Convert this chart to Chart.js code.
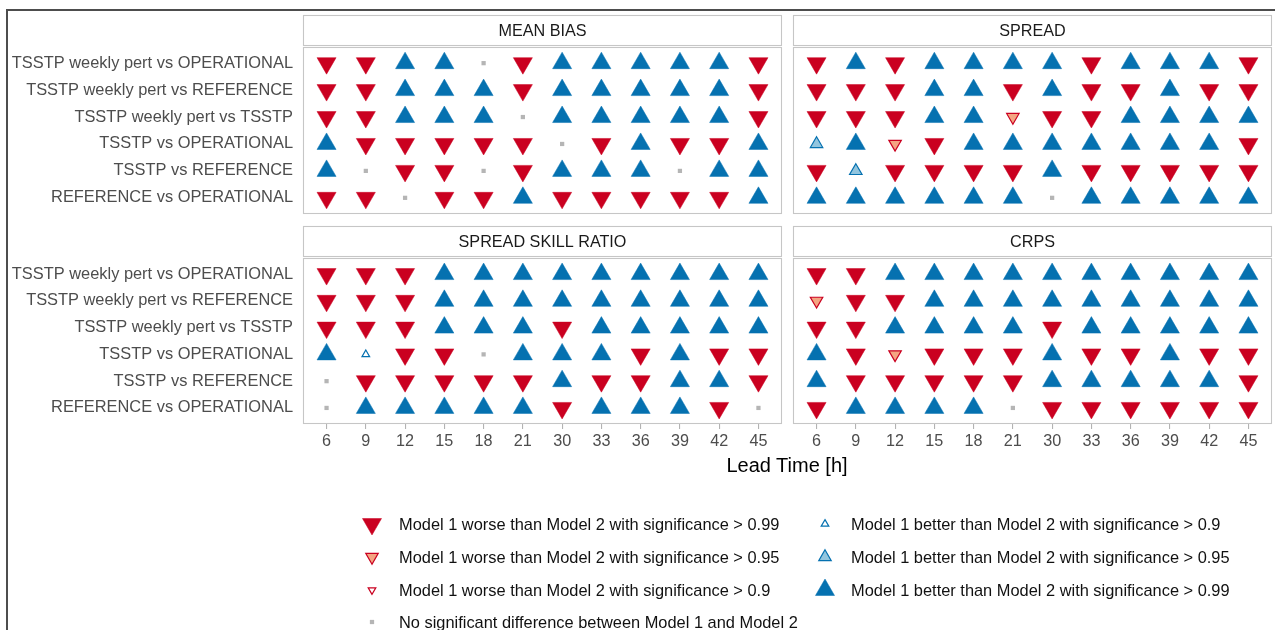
<!DOCTYPE html>
<html>
<head>
<meta charset="utf-8">
<title>Scorecard</title>
<script src="https://cdn.jsdelivr.net/npm/chart.js@4.4.1/dist/chart.umd.min.js"></script>
<style>
  html, body { margin: 0; padding: 0; background: #ffffff; }
  body { width: 1275px; height: 630px; position: relative; overflow: hidden;
         font-family: "Liberation Sans", Arial, Helvetica, sans-serif; }
  #frame { position: absolute; left: 6px; top: 9px; width: 1300px; height: 700px;
           border-top: 2px solid #4d4d4d; border-left: 2px solid #4d4d4d; }
  canvas.panel, #legendMarks { position: absolute; }
  #xtitle { position: absolute; left: 587px; top: 454px; width: 400px; text-align: center;
            font-size: 20px; line-height: 22px; color: #000; }
  .legtext { position: absolute; font-size: 16.4px; line-height: 20px; color: #111; white-space: nowrap; }
</style>
</head>
<body>
<div id="frame"></div>
<canvas id="pMeanBias" class="panel" width="800" height="240" style="left:0;top:0"></canvas>
<canvas id="pSpread" class="panel" width="515" height="240" style="left:775px;top:0"></canvas>
<canvas id="pSsr" class="panel" width="800" height="260" style="left:0;top:220px"></canvas>
<canvas id="pCrps" class="panel" width="515" height="260" style="left:775px;top:220px"></canvas>
<div id="xtitle">Lead Time [h]</div>
<canvas id="legendMarks" width="1275" height="140" style="left:0;top:495px"></canvas>
<div id="legend"></div>

<script>
// Lead times on the x axis (hours)
const leadTimes = ['6', '9', '12', '15', '18', '21', '30', '33', '36', '39', '42', '45'];

// Model pairs, top to bottom
const comparisons = [
  'TSSTP weekly pert vs OPERATIONAL',
  'TSSTP weekly pert vs REFERENCE',
  'TSSTP weekly pert vs TSSTP',
  'TSSTP vs OPERATIONAL',
  'TSSTP vs REFERENCE',
  'REFERENCE vs OPERATIONAL'
];

// Significance codes: 3/2/1 = Model 1 better (>0.99/>0.95/>0.9),
// -3/-2/-1 = Model 1 worse (>0.99/>0.95/>0.9), 0 = no significant difference
const meanBias = [
  [-3, -3,  3,  3,  0, -3,  3,  3,  3,  3,  3, -3],
  [-3, -3,  3,  3,  3, -3,  3,  3,  3,  3,  3, -3],
  [-3, -3,  3,  3,  3,  0,  3,  3,  3,  3,  3, -3],
  [ 3, -3, -3, -3, -3, -3,  0, -3,  3, -3, -3,  3],
  [ 3,  0, -3, -3,  0, -3,  3,  3,  3,  0,  3,  3],
  [-3, -3,  0, -3, -3,  3, -3, -3, -3, -3, -3,  3]
];

const spread = [
  [-3,  3, -3,  3,  3,  3,  3, -3,  3,  3,  3, -3],
  [-3, -3, -3,  3,  3, -3,  3, -3, -3,  3, -3, -3],
  [-3, -3, -3,  3,  3, -2, -3, -3,  3,  3,  3,  3],
  [ 2,  3, -2, -3,  3,  3,  3,  3,  3,  3,  3, -3],
  [-3,  2, -3, -3, -3, -3,  3, -3, -3, -3, -3, -3],
  [ 3,  3,  3,  3,  3,  3,  0,  3,  3,  3,  3,  3]
];

const spreadSkillRatio = [
  [-3, -3, -3,  3,  3,  3,  3,  3,  3,  3,  3,  3],
  [-3, -3, -3,  3,  3,  3,  3,  3,  3,  3,  3,  3],
  [-3, -3, -3,  3,  3,  3, -3,  3,  3,  3,  3,  3],
  [ 3,  1, -3, -3,  0,  3,  3,  3, -3,  3, -3, -3],
  [ 0, -3, -3, -3, -3, -3,  3, -3, -3,  3,  3, -3],
  [ 0,  3,  3,  3,  3,  3, -3,  3,  3,  3, -3,  0]
];

const crps = [
  [-3, -3,  3,  3,  3,  3,  3,  3,  3,  3,  3,  3],
  [-2, -3, -3,  3,  3,  3,  3,  3,  3,  3,  3,  3],
  [-3, -3,  3,  3,  3,  3, -3,  3,  3,  3,  3,  3],
  [ 3, -3, -2, -3, -3, -3,  3, -3, -3,  3, -3, -3],
  [ 3, -3, -3, -3, -3, -3,  3,  3,  3,  3,  3, -3],
  [-3,  3,  3,  3,  3,  0, -3, -3, -3, -3, -3, -3]
];

const panelTitles = ['MEAN BIAS', 'SPREAD', 'SPREAD SKILL RATIO', 'CRPS'];

// Legend entries: [code, label]
const legendLeft = [
  [-3, 'Model 1 worse than Model 2 with significance > 0.99'],
  [-2, 'Model 1 worse than Model 2 with significance > 0.95'],
  [-1, 'Model 1 worse than Model 2 with significance > 0.9'],
  [ 0, 'No significant difference between Model 1 and Model 2']
];
const legendRight = [
  [ 1, 'Model 1 better than Model 2 with significance > 0.9'],
  [ 2, 'Model 1 better than Model 2 with significance > 0.95'],
  [ 3, 'Model 1 better than Model 2 with significance > 0.99']
];

// ---- marker styling per significance code ----
const RED = '#ca0020', SALMON = '#f4a582', BLUE = '#0571b0', LIGHTBLUE = '#92c5de', GREY = '#b5b5b5';
const markerStyle = {
  '3':  { pointStyle: 'triangle', radius: 11,  rotation: 0,   bg: BLUE,      border: BLUE, bw: 0.5 },
  '2':  { pointStyle: 'triangle', radius: 7.2, rotation: 0,   bg: LIGHTBLUE, border: BLUE, bw: 1.2 },
  '1':  { pointStyle: 'triangle', radius: 4.4, rotation: 0,   bg: '#ffffff', border: BLUE, bw: 1.2 },
  '0':  { pointStyle: 'rect',     radius: 3,   rotation: 0,   bg: GREY,      border: GREY, bw: 0 },
  '-1': { pointStyle: 'triangle', radius: 4.4, rotation: 180, bg: '#ffffff', border: RED,  bw: 1.2 },
  '-2': { pointStyle: 'triangle', radius: 7.2, rotation: 180, bg: SALMON,    border: RED,  bw: 1.2 },
  '-3': { pointStyle: 'triangle', radius: 11,  rotation: 180, bg: RED,       border: RED,  bw: 0.5 }
};
const codeOrder = [-3, -2, -1, 0, 1, 2, 3];

const FONT = '"Liberation Sans", Arial, Helvetica, sans-serif';

// Facet strip above each panel plus the panel frame
const facetStrip = {
  id: 'facetStrip',
  afterDraw(chart, args, opts) {
    const { ctx, chartArea: a } = chart;
    const h = opts.height;
    ctx.save();
    ctx.strokeStyle = '#c6c6c6';
    ctx.lineWidth = 1.1;
    ctx.strokeRect(a.left + 0.5, a.top + 0.5, a.right - a.left - 1, a.bottom - a.top - 1);
    ctx.fillStyle = '#ffffff';
    ctx.fillRect(a.left, a.top - h, a.right - a.left, h - 1);
    ctx.strokeRect(a.left + 0.5, a.top - h + 0.5, a.right - a.left - 1, h - 2);
    ctx.fillStyle = '#1a1a1a';
    ctx.font = '16.2px ' + FONT;
    ctx.textAlign = 'center';
    ctx.textBaseline = 'middle';
    ctx.fillText(opts.text, (a.left + a.right) / 2, a.top - h / 2 + 0.5);
    ctx.restore();
  }
};

function buildDatasets(grid) {
  return codeOrder.map(code => {
    const s = markerStyle[String(code)];
    const pts = [];
    grid.forEach((row, r) => row.forEach((v, c) => { if (v === code) pts.push({ x: c, y: r }); }));
    return {
      data: pts,
      pointStyle: s.pointStyle,
      pointRadius: s.radius,
      pointHoverRadius: s.radius,
      pointRotation: s.rotation,
      backgroundColor: s.bg,
      borderColor: s.border,
      borderWidth: s.bw,
      showLine: false,
      clip: false
    };
  });
}

function makePanel(id, title, grid, cfg) {
  new Chart(document.getElementById(id), {
    type: 'scatter',
    data: { datasets: buildDatasets(grid) },
    plugins: [facetStrip],
    options: {
      responsive: false,
      animation: false,
      events: [],
      layout: { padding: cfg.padding },
      plugins: {
        legend: { display: false },
        tooltip: { enabled: false },
        facetStrip: { text: title, height: 32 }
      },
      scales: {
        x: {
          type: 'linear',
          min: -0.6,
          max: leadTimes.length - 1 + 0.6,
          display: cfg.showX,
          afterBuildTicks: s => { s.ticks = leadTimes.map((_, i) => ({ value: i })); },
          afterFit: s => { s.height = cfg.showX ? 36 : 0; },
          border: { display: false },
          grid: { drawOnChartArea: false, drawTicks: true, tickLength: 5, color: '#b3b3b3', lineWidth: 1.1 },
          ticks: {
            autoSkip: false, maxRotation: 0, padding: 3,
            color: '#4d4d4d', font: { family: FONT, size: 16.2 },
            callback: v => leadTimes[v]
          }
        },
        y: {
          type: 'linear',
          reverse: true,
          min: -0.6,
          max: comparisons.length - 1 + 0.6,
          display: cfg.showY,
          afterBuildTicks: s => { s.ticks = comparisons.map((_, i) => ({ value: i })); },
          afterFit: s => { s.width = cfg.showY ? 303 : 0; },
          border: { display: false },
          grid: { display: false, drawOnChartArea: false, drawTicks: false },
          ticks: {
            autoSkip: false, padding: 10,
            color: '#4d4d4d', font: { family: FONT, size: 16.4 },
            callback: v => comparisons[v]
          }
        }
      }
    }
  });
}

makePanel('pMeanBias', panelTitles[0], meanBias,
  { showX: false, showY: true, padding: { top: 47, bottom: 26, left: 0, right: 18 } });
makePanel('pSpread', panelTitles[1], spread,
  { showX: false, showY: false, padding: { top: 47, bottom: 26, left: 18, right: 18 } });
makePanel('pSsr', panelTitles[2], spreadSkillRatio,
  { showX: true, showY: true, padding: { top: 38, bottom: 20, left: 0, right: 18 } });
makePanel('pCrps', panelTitles[3], crps,
  { showX: true, showY: false, padding: { top: 38, bottom: 20, left: 18, right: 18 } });

// ---- legend ----
(function drawLegend() {
  const canvas = document.getElementById('legendMarks');
  const ctx = canvas.getContext('2d');
  const top = 495;
  const rowsY = [524, 557, 590, 622];
  const holder = document.getElementById('legend');

  function mark(code, x, y) {
    const s = markerStyle[String(code)];
    ctx.save();
    ctx.fillStyle = s.bg;
    ctx.strokeStyle = s.border;
    ctx.lineWidth = s.bw;
    Chart.helpers.drawPoint(ctx, {
      pointStyle: s.pointStyle, radius: s.radius, rotation: s.rotation, borderWidth: s.bw
    }, x, y - top);
    ctx.restore();
  }
  function text(label, x, y) {
    const d = document.createElement('div');
    d.className = 'legtext';
    d.style.left = x + 'px';
    d.style.top = (y - 10) + 'px';
    d.textContent = label;
    holder.appendChild(d);
  }
  legendLeft.forEach(([code, label], i) => { mark(code, 372, rowsY[i]); text(label, 399, rowsY[i]); });
  legendRight.forEach(([code, label], i) => { mark(code, 825, rowsY[i]); text(label, 851, rowsY[i]); });
})();
</script>
</body>
</html>
